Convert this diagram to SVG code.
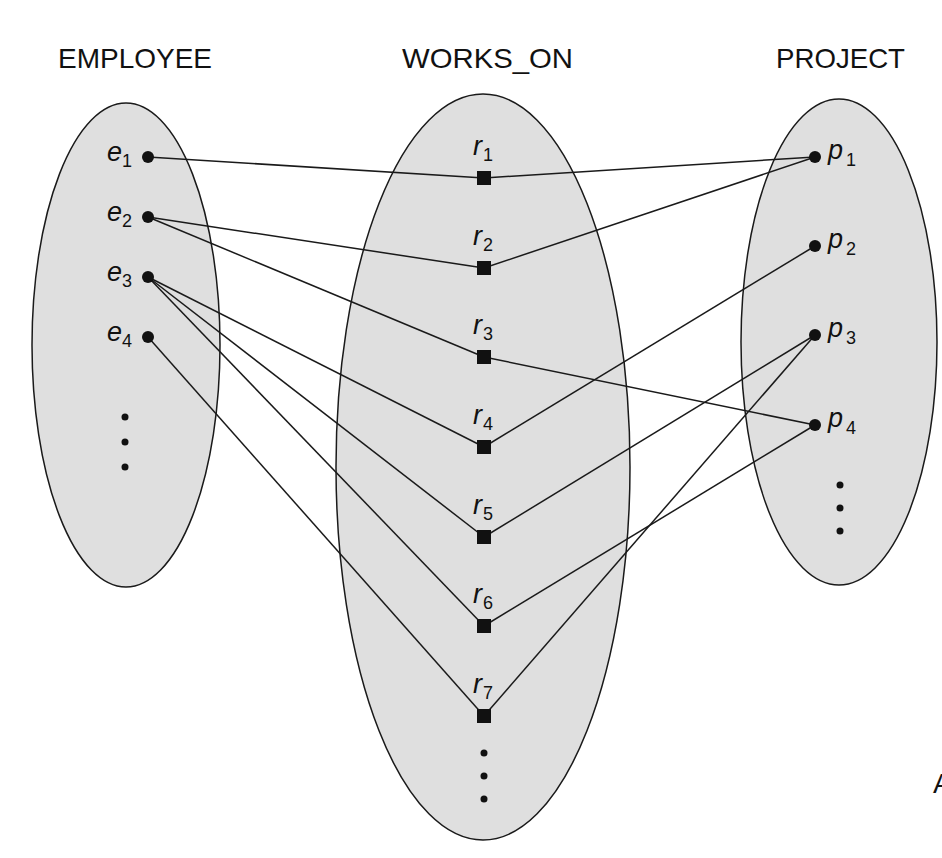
<svg xmlns="http://www.w3.org/2000/svg" width="942" height="858" viewBox="0 0 942 858">
<style>
.set{fill:#dfdfdf;stroke:#1a1a1a;stroke-width:1.5}
.hd{font-family:"Liberation Sans",Arial,sans-serif;font-size:28px;fill:#111}
.lb{font-family:"Liberation Sans",Arial,sans-serif;font-size:27px;font-style:italic;fill:#111}
.sb{font-family:"Liberation Sans",Arial,sans-serif;font-size:18px;fill:#111}
.dot{fill:#111}
.sq{fill:#111}
#connectors line{stroke:#1a1a1a;stroke-width:1.5}
</style>
<rect width="942" height="858" fill="#fff"/>
<g id="headers">
<text class="hd" x="58" y="68" textLength="154" lengthAdjust="spacingAndGlyphs">EMPLOYEE</text>
<text class="hd" x="402" y="68" textLength="171" lengthAdjust="spacingAndGlyphs">WORKS_ON</text>
<text class="hd" x="776" y="68" textLength="129" lengthAdjust="spacingAndGlyphs">PROJECT</text>
</g>
<g id="employee-set"><ellipse class="set" cx="126" cy="345" rx="94" ry="242"/></g>
<g id="works_on-set"><ellipse class="set" cx="483" cy="467" rx="147" ry="373"/></g>
<g id="project-set"><ellipse class="set" cx="839" cy="342" rx="98" ry="243"/></g>
<g id="connectors">
<line x1="148" y1="157" x2="484" y2="178"/>
<line x1="484" y1="178" x2="815" y2="157"/>
<line x1="148" y1="217" x2="484" y2="268"/>
<line x1="484" y1="268" x2="815" y2="157"/>
<line x1="148" y1="217" x2="484" y2="357"/>
<line x1="484" y1="357" x2="815" y2="425"/>
<line x1="148" y1="277" x2="484" y2="447"/>
<line x1="484" y1="447" x2="815" y2="246"/>
<line x1="148" y1="277" x2="484" y2="537"/>
<line x1="484" y1="537" x2="815" y2="335"/>
<line x1="148" y1="277" x2="484" y2="626"/>
<line x1="484" y1="626" x2="815" y2="425"/>
<line x1="148" y1="337" x2="484" y2="716"/>
<line x1="484" y1="716" x2="815" y2="335"/>
</g>
<g id="e1"><circle class="dot" cx="148" cy="157" r="6"/><text class="lb" x="107" y="161">e</text><text class="sb" x="122" y="167">1</text></g>
<g id="e2"><circle class="dot" cx="148" cy="217" r="6"/><text class="lb" x="107" y="221">e</text><text class="sb" x="122" y="227">2</text></g>
<g id="e3"><circle class="dot" cx="148" cy="277" r="6"/><text class="lb" x="107" y="281">e</text><text class="sb" x="122" y="287">3</text></g>
<g id="e4"><circle class="dot" cx="148" cy="337" r="6"/><text class="lb" x="107" y="341">e</text><text class="sb" x="122" y="347">4</text></g>
<g id="e-more"><circle class="dot" cx="125" cy="417" r="3.5"/><circle class="dot" cx="125" cy="442" r="3.5"/><circle class="dot" cx="125" cy="467" r="3.5"/></g>
<g id="r1"><rect class="sq" x="477" y="171" width="14" height="14"/><text class="lb" x="473" y="155">r</text><text class="sb" x="483" y="161">1</text></g>
<g id="r2"><rect class="sq" x="477" y="261" width="14" height="14"/><text class="lb" x="473" y="245">r</text><text class="sb" x="483" y="251">2</text></g>
<g id="r3"><rect class="sq" x="477" y="350" width="14" height="14"/><text class="lb" x="473" y="334">r</text><text class="sb" x="483" y="340">3</text></g>
<g id="r4"><rect class="sq" x="477" y="440" width="14" height="14"/><text class="lb" x="473" y="424">r</text><text class="sb" x="483" y="430">4</text></g>
<g id="r5"><rect class="sq" x="477" y="530" width="14" height="14"/><text class="lb" x="473" y="514">r</text><text class="sb" x="483" y="520">5</text></g>
<g id="r6"><rect class="sq" x="477" y="619" width="14" height="14"/><text class="lb" x="473" y="603">r</text><text class="sb" x="483" y="609">6</text></g>
<g id="r7"><rect class="sq" x="477" y="709" width="14" height="14"/><text class="lb" x="473" y="693">r</text><text class="sb" x="483" y="699">7</text></g>
<g id="r-more"><circle class="dot" cx="484" cy="753" r="3.5"/><circle class="dot" cx="484" cy="776" r="3.5"/><circle class="dot" cx="484" cy="799" r="3.5"/></g>
<g id="p1"><circle class="dot" cx="815" cy="157" r="6"/><text class="lb" x="828" y="159">p</text><text class="sb" x="846" y="166">1</text></g>
<g id="p2"><circle class="dot" cx="815" cy="246" r="6"/><text class="lb" x="828" y="248">p</text><text class="sb" x="846" y="255">2</text></g>
<g id="p3"><circle class="dot" cx="815" cy="335" r="6"/><text class="lb" x="828" y="337">p</text><text class="sb" x="846" y="344">3</text></g>
<g id="p4"><circle class="dot" cx="815" cy="425" r="6"/><text class="lb" x="828" y="427">p</text><text class="sb" x="846" y="434">4</text></g>
<g id="p-more"><circle class="dot" cx="840" cy="485" r="3.5"/><circle class="dot" cx="840" cy="508" r="3.5"/><circle class="dot" cx="840" cy="531" r="3.5"/></g>
<text class="hd" x="933" y="793">A</text>
</svg>
